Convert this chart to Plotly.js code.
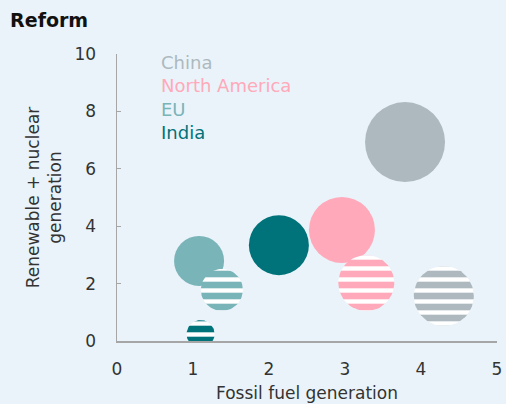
<!DOCTYPE html>
<html><head><meta charset="utf-8">
<script src="https://cdn.plot.ly/plotly-3.0.1.min.js"></script>
<style>html,body{margin:0;padding:0;background:#eaf3f9;}</style>
</head><body>
<div id="chart" style="width:506px;height:404px;"></div>
<script>
// Data
const regions = ['China', 'North America', 'EU', 'India'];
const colors = ['#adb9bf', '#ffa9ba', '#79b4b8', '#00727a'];
// solid bubbles
const solidX = [3.79, 2.96, 1.08, 2.13];
const solidY = [6.93, 3.87, 2.79, 3.34];
const solidSize = [80, 66, 50, 60];
// striped bubbles
const stripeX = [4.30, 3.28, 1.38, 1.10];
const stripeY = [1.57, 2.02, 1.78, 0.24];
const stripeSize = [60, 56, 42, 28];
const xTicks = [0, 1, 2, 3, 4, 5];
const yTicks = [0, 2, 4, 6, 8, 10];

const W = 506, H = 404;
const margin = {l: 117, r: 9, t: 54, b: 63};
const xRange = [0, 5], yRange = [0, 10];
const pxPerX = (W - margin.l - margin.r) / (xRange[1] - xRange[0]);
const pxPerY = (H - margin.t - margin.b) / (yRange[1] - yRange[0]);
const font = 'DejaVu Sans, sans-serif';

const traces = [];
// solid bubbles as markers
for (let i = 0; i < regions.length; i++) {
  traces.push({
    type: 'scatter', mode: 'markers', x: [solidX[i]], y: [solidY[i]],
    marker: {size: solidSize[i], color: colors[i], opacity: 1, line: {width: 0}},
    hoverinfo: 'skip', showlegend: false
  });
}
// striped bubbles as filled circles with a line pattern
function circle(cx, cy, diamPx) {
  const r = diamPx / 2, xs = [], ys = [];
  for (let k = 0; k <= 72; k++) {
    const a = 2 * Math.PI * k / 72;
    xs.push(cx + r * Math.cos(a) / pxPerX);
    ys.push(cy + r * Math.sin(a) / pxPerY);
  }
  return {xs, ys};
}
for (let i = 0; i < regions.length; i++) {
  const c = circle(stripeX[i], stripeY[i], stripeSize[i]);
  traces.push({
    type: 'scatter', mode: 'lines', x: c.xs, y: c.ys, fill: 'toself',
    fillcolor: colors[i], line: {width: 0, color: colors[i]},
    fillpattern: {shape: '-', bgcolor: colors[i], fgcolor: '#ffffff', size: 11, solidity: 0.4},
    hoverinfo: 'skip', showlegend: false
  });
}

const annotations = regions.map((r, i) => ({
  xref: 'paper', yref: 'paper', x: 0.11, y: 1 - (8 + i * 23.5) / (H - margin.t - margin.b),
  xanchor: 'left', yanchor: 'middle', showarrow: false, text: r,
  font: {family: font, size: 18, color: colors[i]}
}));

const layout = {
  width: W, height: H, margin: margin,
  paper_bgcolor: '#eaf3f9', plot_bgcolor: '#eaf3f9',
  title: {text: '<b>Reform</b>', x: 0.02, xanchor: 'left', y: 0.95, yanchor: 'middle',
          font: {family: font, size: 19, color: '#111'}},
  xaxis: {range: xRange, tickvals: xTicks, showgrid: false, zeroline: false,
          showline: true, linecolor: '#a6a6a6', linewidth: 1.5, ticks: '', ticklabelstandoff: 12,
          tickfont: {family: font, size: 17, color: '#333'},
          title: {text: 'Fossil fuel generation', font: {family: font, size: 17, color: '#333'}, standoff: 9}},
  yaxis: {range: yRange, tickvals: yTicks, showgrid: false, zeroline: false,
          showline: true, linecolor: '#a6a6a6', linewidth: 1.5, ticks: 'inside', ticklen: 4,
          tickcolor: '#a6a6a6', ticklabelstandoff: 16,
          tickfont: {family: font, size: 17, color: '#333'},
          title: {text: 'Renewable + nuclear<br>generation', font: {family: font, size: 17, color: '#333'}, standoff: 8}},
  annotations: annotations,
  showlegend: false
};
Plotly.newPlot('chart', traces, layout, {displayModeBar: false, staticPlot: true});
</script>
</body></html>
